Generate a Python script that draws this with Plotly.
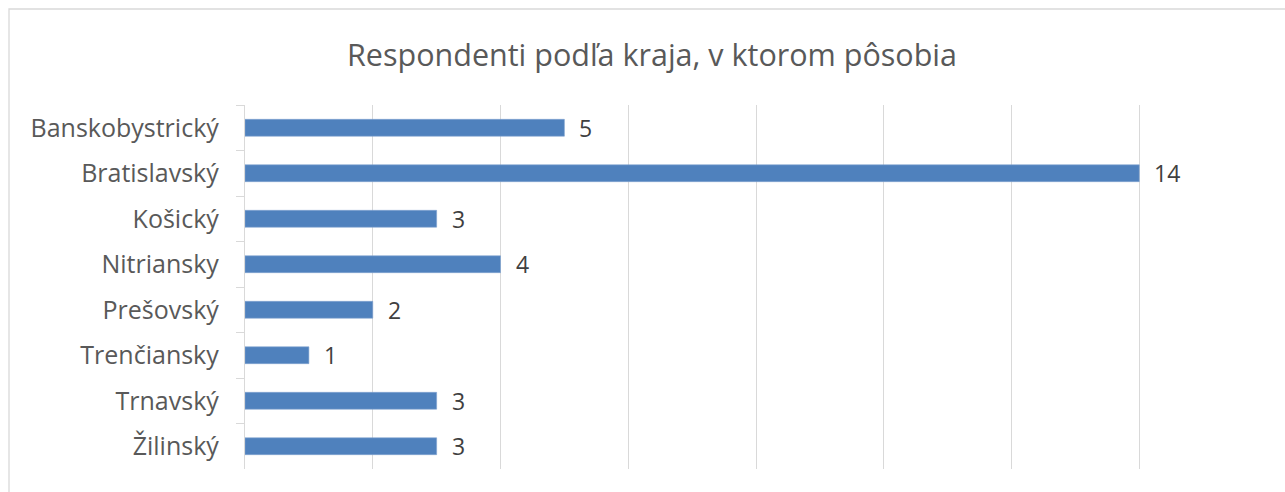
import plotly.graph_objects as go

categories = ["Banskobystrický", "Bratislavský", "Košický", "Nitriansky",
              "Prešovský", "Trenčiansky", "Trnavský", "Žilinský"]
values = [5, 14, 3, 4, 2, 1, 3, 3]
title_text = "Respondenti podľa kraja, v ktorom pôsobia"

W, H = 1285, 492
ml, mr, mt, mb = 245, 18, 105, 23

fig = go.Figure(go.Bar(
    y=categories, x=values, orientation="h",
    marker=dict(color="#4f81bd", line=dict(color="#7fa3d0", width=0.6)),
    width=0.37, hoverinfo="x+y",
))

for c, v in zip(categories, values):
    fig.add_annotation(x=v, y=c, text=str(v), showarrow=False,
                       xanchor="left", yanchor="middle", xshift=13,
                       font=dict(family="Open Sans", size=23, color="#404040"))

pw = W - ml - mr
ph = H - mt - mb
fig.add_shape(type="rect", xref="paper", yref="paper",
              x0=(9 - ml) / pw, x1=(W + 5 - ml) / pw,
              y0=-(H + 5 - mt - ph) / ph, y1=(H - 9 - mb) / ph,
              line=dict(color="#d9d9d9", width=1.3), layer="below")

fig.update_layout(
    width=W, height=H, margin=dict(l=ml, r=mr, t=mt, b=mb),
    paper_bgcolor="white", plot_bgcolor="white",
    title=dict(text=title_text, x=652 / W, xanchor="center", xref="container",
               y=1 - 55 / H, yanchor="middle",
               font=dict(family="Open Sans", size=30.5, color="#595959")),
    showlegend=False,
    xaxis=dict(range=[0, 16], dtick=2, showgrid=True, gridcolor="#d9d9d9",
               gridwidth=1.4, showticklabels=False, zeroline=False,
               showline=False, fixedrange=True),
    yaxis=dict(autorange="reversed", showline=True, linecolor="#d9d9d9",
               linewidth=1.4, ticks="outside", tickson="boundaries",
               ticklen=8, tickcolor="#d9d9d9", tickwidth=1.4,
               tickfont=dict(family="Open Sans", size=25, color="#595959"),
               ticklabelstandoff=20, showgrid=False),
    font=dict(family="Open Sans"),
)

fig.write_html("out.html")
